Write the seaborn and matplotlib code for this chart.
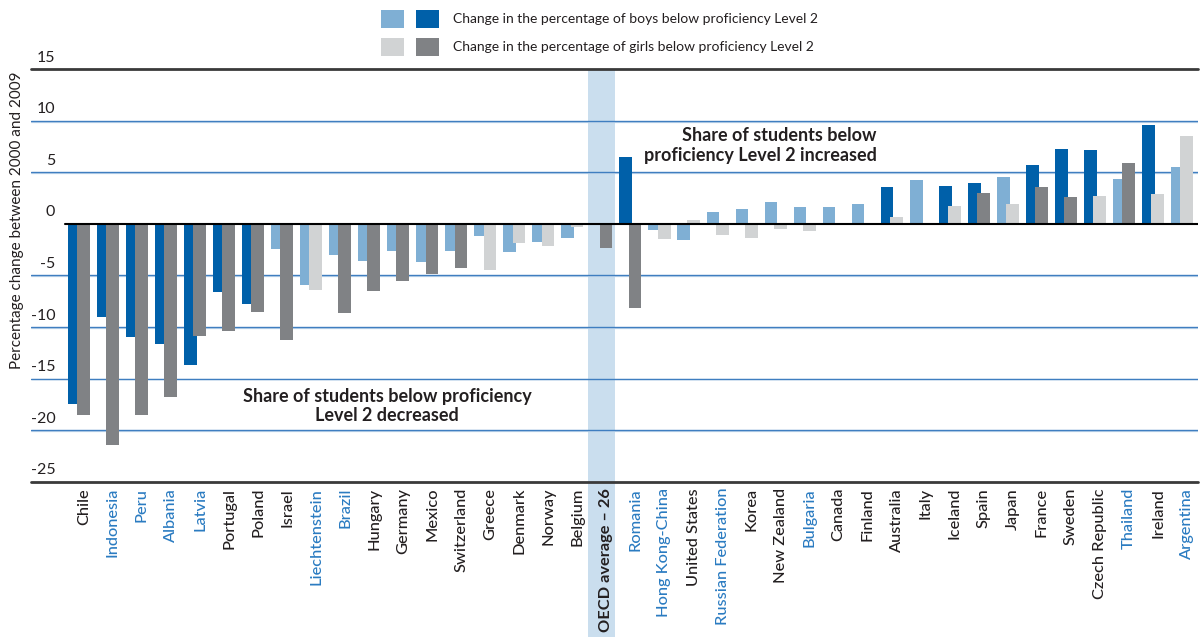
import pandas as pd
import matplotlib
matplotlib.use("Agg")
import matplotlib.pyplot as plt
import matplotlib.transforms as mtransforms
from matplotlib.patches import Rectangle
import seaborn as sns

# Data (percentage-point change 2000 -> 2009)
countries = ["Chile", "Indonesia", "Peru", "Albania", "Latvia", "Portugal", "Poland",
             "Israel", "Liechtenstein", "Brazil", "Hungary", "Germany", "Mexico",
             "Switzerland", "Greece", "Denmark", "Norway", "Belgium", "OECD average – 26",
             "Romania", "Hong Kong-China", "United States", "Russian Federation", "Korea",
             "New Zealand", "Bulgaria", "Canada", "Finland", "Australia", "Italy", "Iceland",
             "Spain", "Japan", "France", "Sweden", "Czech Republic", "Thailand", "Ireland",
             "Argentina"]
boys = [-17.5, -9.0, -11.0, -11.6, -13.7, -6.6, -7.8, -2.4, -5.9, -3.0, -3.55, -2.6, -3.65,
        -2.6, -1.13, -2.68, -1.77, -1.35, 0.13, 6.5, -0.6, -1.6, 1.13, 1.48, 2.1, 1.68,
        1.68, 1.97, 3.6, 4.3, 3.7, 4.0, 4.58, 5.74, 7.3, 7.2, 4.39, 9.6, 5.55]
girls = [-18.5, -21.4, -18.5, -16.8, -10.9, -10.4, -8.5, -11.3, -6.4, -8.65, -6.5, -5.55,
         -4.9, -4.3, -4.45, -1.87, -2.1, -0.26, -2.35, -8.15, -1.45, 0.42, -1.03, -1.35,
         -0.52, -0.65, -0.05, -0.1, 0.65, 0.13, 1.77, 3.03, 1.97, 3.6, 2.65, 2.74, 5.94,
         2.93, 8.55]
# 1 = statistically significant change (dark bar)
boys_sig = [1, 1, 1, 1, 1, 1, 1, 0, 0, 0, 0, 0, 0, 0, 0, 0, 0, 0, 0, 1, 0, 0, 0, 0, 0, 0,
            0, 0, 1, 0, 1, 1, 0, 1, 1, 1, 0, 1, 0]
girls_sig = [1, 1, 1, 1, 1, 1, 1, 1, 0, 1, 1, 1, 1, 1, 0, 0, 0, 0, 1, 1, 0, 0, 0, 0, 0, 0,
             0, 0, 0, 0, 0, 1, 0, 1, 1, 0, 1, 0, 0]
partners = ["Indonesia", "Peru", "Albania", "Latvia", "Liechtenstein", "Brazil", "Romania",
            "Hong Kong-China", "Russian Federation", "Bulgaria", "Thailand", "Argentina"]
yticks = [15, 10, 5, 0, -5, -10, -15, -20, -25]

BOY_DARK, BOY_LIGHT = "#0060A9", "#7FAFD4"
GIRL_DARK, GIRL_LIGHT = "#808285", "#D1D3D4"
TXT = "#231F20"
LBL_BLUE = "#2A7BC1"

df = pd.DataFrame({
    "country": countries * 2,
    "sex": ["boys"] * len(countries) + ["girls"] * len(countries),
    "value": boys + girls,
})

sns.set_style("white")
plt.rcParams["font.family"] = ["Lato", "DejaVu Sans"]

W, H = 1202, 637
fig = plt.figure(figsize=(W / 100, H / 100), dpi=100)
ax_l, ax_r, ax_t, ax_b = 31, 1198, 69.3, 481.7
ax = fig.add_axes([ax_l / W, 1 - ax_b / H, (ax_r - ax_l) / W, (ax_b - ax_t) / H])

sns.barplot(data=df, x="country", y="value", hue="sex", order=countries,
            hue_order=["boys", "girls"], dodge=True, width=0.76, errorbar=None,
            saturation=1, palette=[BOY_DARK, GIRL_DARK], legend=False, ax=ax,
            linewidth=0, zorder=3)

# recolour by significance and let the pair overlap a little
for bar, s in zip(ax.containers[0], boys_sig):
    bar.set_facecolor(BOY_DARK if s else BOY_LIGHT)
    bar.set_width(0.44)
    bar.set_linewidth(0)
    bar.set_zorder(3)
for bar, s in zip(ax.containers[1], girls_sig):
    bar.set_facecolor(GIRL_DARK if s else GIRL_LIGHT)
    bar.set_x(bar.get_x() - 0.06)
    bar.set_width(0.44)
    bar.set_linewidth(0)
    bar.set_zorder(4)

ax.set_xlim(-1.65, 38.55)
ax.set_ylim(-25, 15)

# OECD average band, running down through the labels
oecd = countries.index("OECD average – 26")
band = Rectangle((oecd - 0.45, -0.4), 0.9, 1.4, transform=ax.get_xaxis_transform(),
                 facecolor="#CADEEE", edgecolor="none", clip_on=False, zorder=0)
ax.add_patch(band)

for v in [10, 5, -5, -10, -15, -20]:
    ax.axhline(v - 0.08, color="#C3D8EC", lw=0.9, zorder=1)
    ax.axhline(v, color="#3F7EC0", lw=1.0, zorder=1)
for v in [15, -25]:
    ax.axhline(v, color="#3A3A3A", lw=2.0, zorder=5, clip_on=False)
ax.plot([-0.48, 38.55], [0, 0], color="black", lw=1.5, zorder=5)

for sp in ax.spines.values():
    sp.set_visible(False)

ax.set_xlabel("")
ax.set_ylabel("")
ax.set_yticks(yticks)
ax.set_yticklabels([str(v) for v in yticks], fontsize=11.5, color=TXT)
ax.tick_params(axis="y", length=0, pad=-17.5)
shift = mtransforms.ScaledTranslation(0, 0.13, fig.dpi_scale_trans)
for lab in ax.get_yticklabels():
    lab.set_transform(lab.get_transform() + shift)

ax.set_xticks(range(len(countries)))
ax.set_xticklabels(countries, rotation=90, fontsize=11.8, va="top", ha="center",
                   fontweight="medium")
ax.tick_params(axis="x", length=0, pad=4.5)
xshift = mtransforms.ScaledTranslation(0.05, 0, fig.dpi_scale_trans)
for lab, name in zip(ax.get_xticklabels(), countries):
    lab.set_color(LBL_BLUE if name in partners else TXT)
    lab.set_transform(lab.get_transform() + xshift)
    if name.startswith("OECD"):
        lab.set_fontweight("bold")

fig.text(17 / W, 1 - 220 / H, "Percentage change between 2000 and 2009", rotation=90,
         ha="center", va="center", fontsize=11, color=TXT)

fig.text(387 / W, 1 - 406 / H, "Share of students below proficiency\nLevel 2 decreased",
         ha="center", va="center", multialignment="center", fontsize=13,
         fontweight="bold", color=TXT, linespacing=1.2)
fig.text(877 / W, 1 - 145.5 / H, "Share of students below\nproficiency Level 2 increased",
         ha="right", va="center", multialignment="right", fontsize=13,
         fontweight="bold", color=TXT, linespacing=1.2)

# legend drawn by hand: light + dark swatch per row
rows = [(19, BOY_LIGHT, BOY_DARK, "Change in the percentage of boys below proficiency Level 2"),
        (47, GIRL_LIGHT, GIRL_DARK, "Change in the percentage of girls below proficiency Level 2")]
for yc, c1, c2, label in rows:
    for x0, c in [(381, c1), (416, c2)]:
        fig.add_artist(Rectangle((x0 / W, 1 - (yc + 9) / H), 23 / W, 18 / H,
                                 transform=fig.transFigure, facecolor=c, edgecolor="none"))
    fig.text(453 / W, 1 - yc / H, label, ha="left", va="center", fontsize=10, color=TXT)

fig.savefig("out.png", dpi=100)
